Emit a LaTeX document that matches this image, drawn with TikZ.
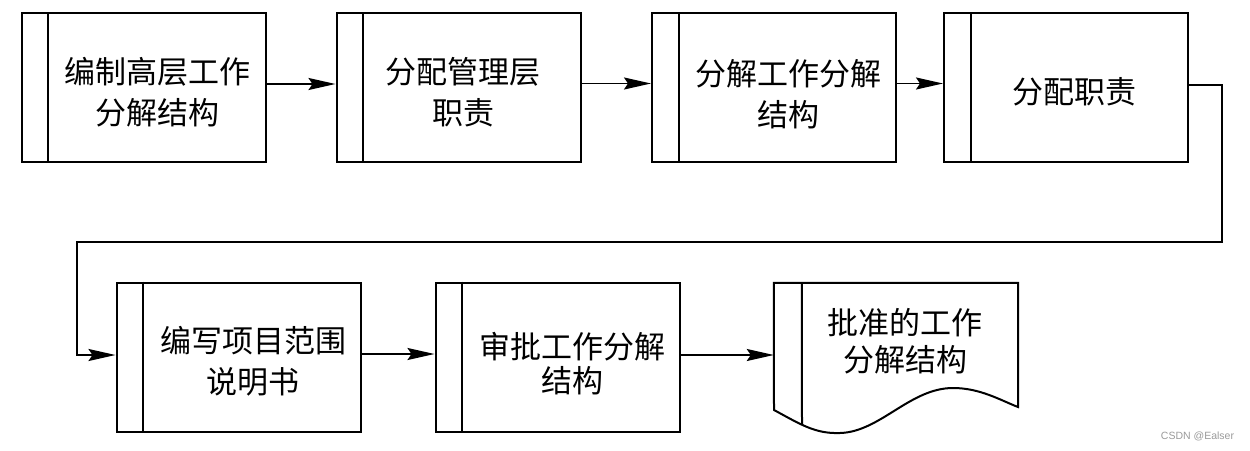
\documentclass[tikz,border=0pt]{standalone}
\usepackage{fontspec}
\newfontfamily\cjk{Noto Sans CJK SC}
\setsansfont{Liberation Sans}
\usetikzlibrary{arrows.meta}
\definecolor{wmgray}{HTML}{9A9A9A}
\begin{document}
\begin{tikzpicture}[x=1pt,y=-1pt,
  box/.style={draw, line width=2pt, minimum width=244pt, minimum height=149pt, inner sep=0pt},
  bar/.style={line width=2pt},
  lbl/.style={font=\cjk\fontsize{31}{41}\selectfont, align=center, inner sep=0pt},
  flow/.style={line width=1.8pt, -{Stealth[length=27pt,width=12pt,inset=4pt]}},
]
\useasboundingbox (0,0) rectangle (1250,450);
% first row
\node[box] (b1) at (143.5,87.5) {};
\node[box] (b2) at (458.5,87.5) {};
\node[box] (b3) at (774,87.5) {};
\node[box] (b4) at (1066,87.5) {};
% second row
\node[box] (b5) at (238.5,357) {};
\node[box] (b6) at (557.5,357) {};
\node[minimum width=244pt, minimum height=127pt, inner sep=0pt] (b7) at (896,346.5) {};
% side bars
\foreach \b in {b1,b2,b3,b4,b5,b6}
  \draw[bar] ([xshift=27.5pt]\b.north west) -- ([xshift=27.5pt]\b.south west);
% document shape
\draw[bar, line join=miter] (b7.north west) -- (b7.north east) -- (1018,407)
  .. controls (1000,400) and (980,388) .. (953,388)
  .. controls (910,388) and (880,432) .. (840,433)
  .. controls (815,434) and (800,424) .. (774,410) -- cycle;
\draw[bar] ([xshift=28pt]b7.north west) -- (802,424.5);
% texts
\node[lbl] (t1) at (157,92.5) {编制高层工作\\分解结构};
\node[lbl] (t2) at (463,92.5) {分配管理层\\职责};
\node[lbl] (t3) at (788,94) {分解工作分解\\结构};
\node[lbl] (t4) at (1074,92) {分配职责};
\node[lbl] (t5) at (253,361) {编写项目范围\\说明书};
\node[lbl, font=\cjk\fontsize{31}{34}\selectfont] (t6) at (572,363.5) {审批工作分解\\结构};
\node[lbl, font=\cjk\fontsize{31}{37}\selectfont] (t7) at (905,341.5) {批准的工作\\分解结构};
% connectors
\draw[flow] ([yshift=3.5pt]b1.east) -- ([yshift=3.5pt]b2.west);
\draw[flow] ([yshift=4pt]b2.east) -- ([yshift=4pt]b3.west);
\draw[flow] ([yshift=4pt]b3.east) -- ([yshift=4pt]b4.west);
\coordinate (r) at (1222,242);
\coordinate (l) at (77,242);
\draw[flow] ([yshift=2.5pt]b4.east) -| (r) -- (l) |- ([yshift=2pt]b5.west);
\draw[flow] ([yshift=3pt]b5.east) -- ([yshift=3pt]b6.west);
\draw[flow] ([yshift=2pt]b6.east) -- ([yshift=2pt]b6.east -| b7.west);
% watermark
\node[font=\sffamily\fontsize{10.5}{12}\selectfont, text=wmgray, inner sep=0pt] (wm) at (1197.5,436) {CSDN @Ealser};
\end{tikzpicture}
\end{document}
